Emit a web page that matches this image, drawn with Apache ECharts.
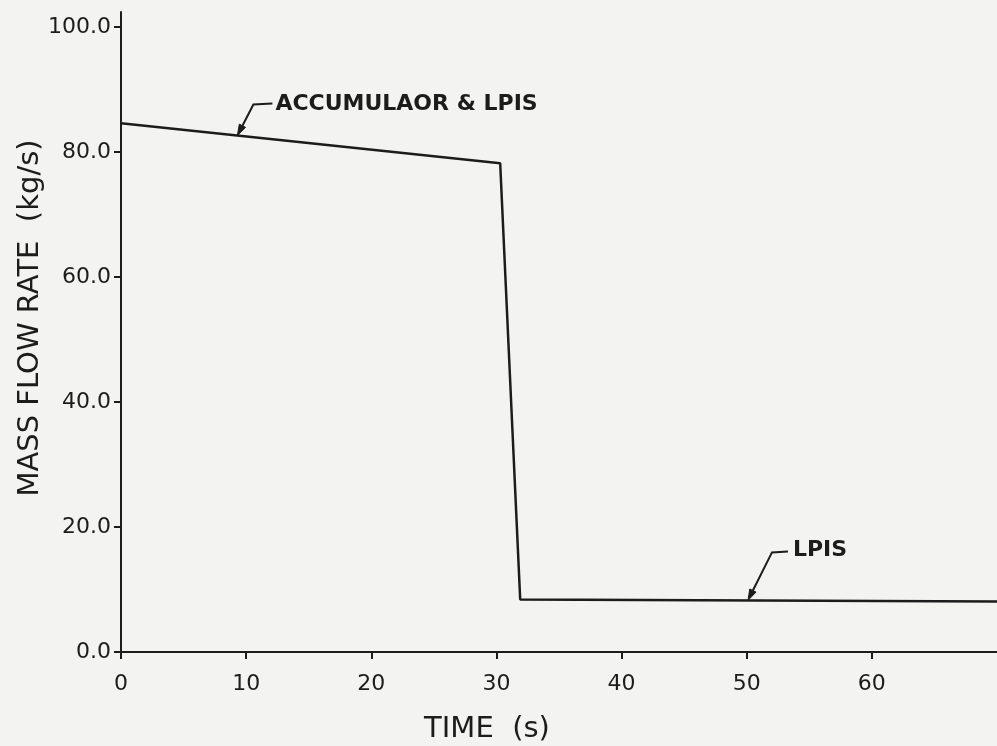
<!DOCTYPE html>
<html>
<head>
<meta charset="utf-8">
<script src="https://cdn.jsdelivr.net/npm/echarts@6/dist/echarts.min.js"></script>
<style>
  html, body { margin: 0; padding: 0; background: #f3f3f2; }
  #chart { width: 997px; height: 746px; }
</style>
</head>
<body>
<div id="chart"></div>
<script>
// Injection mass flow rate vs time
const timeS = [0, 30.3, 31.9, 70];
const flowKgS = [84.6, 78.2, 8.4, 8.1];

// Axis ticks
const xTicks = [0, 10, 20, 30, 40, 50, 60];
const yTicks = [0, 20, 40, 60, 80, 100];

// Curve callouts: label text and the time where its leader meets the curve
const calloutText = ['ACCUMULAOR & LPIS', 'LPIS'];
const calloutTime = [9.3, 50.1];

const INK = '#1c1c1c';
const FONT = 'DejaVu Sans';

const chart = echarts.init(document.getElementById('chart'), null, { renderer: 'canvas' });

function flowAt(t) {
  for (let i = 0; i < timeS.length - 1; i++) {
    if (t >= timeS[i] && t <= timeS[i + 1]) {
      const f = (t - timeS[i]) / (timeS[i + 1] - timeS[i]);
      return flowKgS[i] + f * (flowKgS[i + 1] - flowKgS[i]);
    }
  }
  return flowKgS[flowKgS.length - 1];
}

chart.setOption({
  backgroundColor: '#f3f3f2',
  animation: false,
  grid: { left: 121, right: 0, top: 12, bottom: 94, outerBoundsMode: 'none' },
  xAxis: {
    type: 'value',
    min: 0, max: 70, interval: 10,
    axisLine: { show: true, lineStyle: { color: INK, width: 2 } },
    axisTick: { show: true, length: 7, customValues: xTicks, lineStyle: { color: INK, width: 2 } },
    axisLabel: { customValues: xTicks, fontSize: 22, margin: 21, color: INK, fontFamily: FONT },
    splitLine: { show: false }
  },
  yAxis: {
    type: 'value',
    min: 0, max: 102.4, interval: 20,
    axisLine: { show: true, lineStyle: { color: INK, width: 2 } },
    axisTick: { show: true, length: 7, customValues: yTicks, lineStyle: { color: INK, width: 2 } },
    axisLabel: {
      customValues: yTicks, fontSize: 22, margin: 10, color: INK, fontFamily: FONT,
      formatter: v => Number(v).toFixed(1)
    },
    splitLine: { show: false }
  },
  series: [{
    type: 'line',
    data: timeS.map((t, i) => [t, flowKgS[i]]),
    symbol: 'none',
    lineStyle: { color: INK, width: 2.5 }
  }]
});

// Leader geometry relative to the point on the curve (pixels)
const leaderShape = [
  { elbow: [16, -31], end: [35, -32], text: [38, -31] },
  { elbow: [24, -48], end: [40, -49], text: [45, -50] }
];

const graphics = [
  {
    type: 'text', x: 30, y: 318, rotation: Math.PI / 2,
    style: {
      text: 'MASS FLOW RATE  (kg/s)', fill: INK,
      font: '29px "DejaVu Sans"', textAlign: 'center', textVerticalAlign: 'middle'
    }
  },
  {
    type: 'text', x: 487, y: 729,
    style: {
      text: 'TIME  (s)', fill: INK,
      font: '29px "DejaVu Sans"', textAlign: 'center', textVerticalAlign: 'middle'
    }
  }
];

calloutText.forEach((label, i) => {
  const t = calloutTime[i];
  const tip = chart.convertToPixel({ gridIndex: 0 }, [t, flowAt(t)]);
  const s = leaderShape[i];
  const elbow = [tip[0] + s.elbow[0], tip[1] + s.elbow[1]];
  const end = [tip[0] + s.end[0], tip[1] + s.end[1]];
  // arrowhead pointing from the elbow down to the curve
  const dx = tip[0] - elbow[0], dy = tip[1] - elbow[1];
  const len = Math.hypot(dx, dy);
  const ux = dx / len, uy = dy / len;
  const L = 11, W = 7;
  const bx = tip[0] - ux * L, by = tip[1] - uy * L;
  graphics.push({
    type: 'polyline',
    shape: { points: [end, elbow, [bx, by]] },
    style: { stroke: INK, lineWidth: 2, fill: null }
  });
  graphics.push({
    type: 'polygon',
    shape: { points: [tip, [bx - uy * W / 2, by + ux * W / 2], [bx + uy * W / 2, by - ux * W / 2]] },
    style: { fill: INK, stroke: INK, lineWidth: 1 }
  });
  graphics.push({
    type: 'text', x: tip[0] + s.text[0], y: tip[1] + s.text[1],
    style: {
      text: label, fill: INK,
      font: 'bold 22px "DejaVu Sans"', textAlign: 'left', textVerticalAlign: 'middle'
    }
  });
});

chart.setOption({ graphic: graphics });
</script>
</body>
</html>
